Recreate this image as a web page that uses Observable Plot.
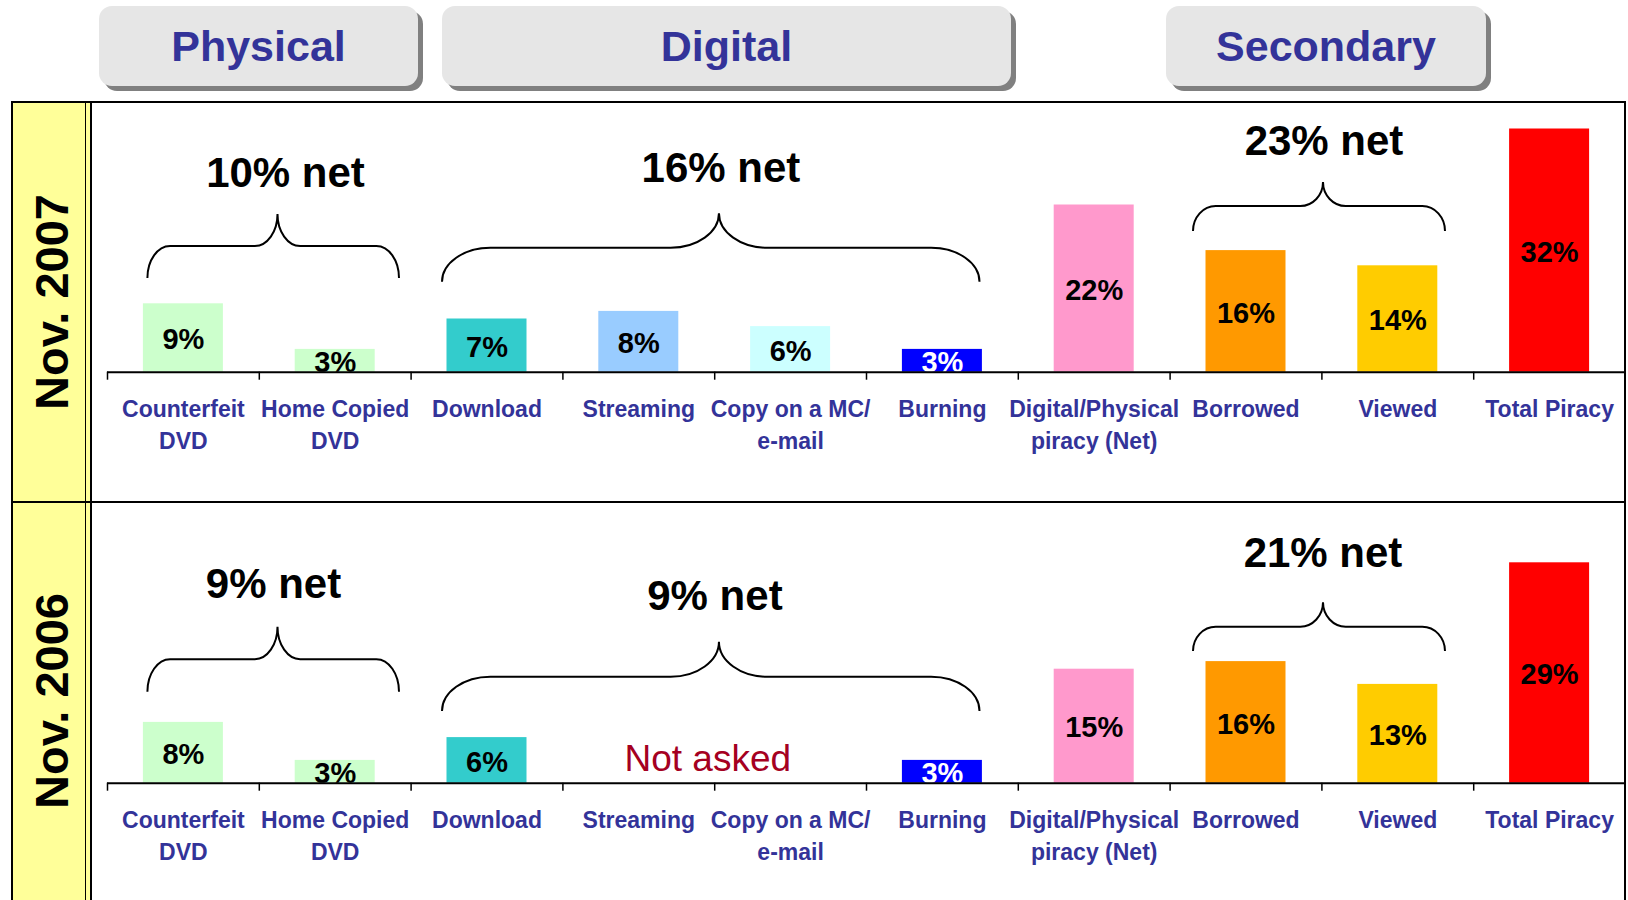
<!DOCTYPE html>
<html>
<head>
<meta charset="utf-8">
<script src="https://cdn.jsdelivr.net/npm/d3@7"></script>
<script src="https://cdn.jsdelivr.net/npm/@observablehq/plot@0.6"></script>
<style>
  body { margin: 0; background: #fff; }
  #wrap { position: relative; width: 1628px; height: 900px; overflow: hidden; background: #fff;
          font-family: "Liberation Sans", Arial, sans-serif; }
  .tab { position: absolute; background: #e6e6e6; border-radius: 13px; box-shadow: 5px 5px 0 #808080;
         display: flex; align-items: center; justify-content: center; color: #333399;
         font-weight: bold; font-size: 43px; line-height: 1; }
  .strip { position: absolute; left: 11px; width: 80px; background: #ffff99; }
  .strip span { position: absolute; left: 50%; top: 50%; transform: translate(-50%, -50%) rotate(-90deg);
                white-space: nowrap; font-weight: bold; font-size: 47px; color: #000; line-height: 1; }
  .ln { position: absolute; background: #000; }
  .panel { position: absolute; left: 91px; }
</style>
</head>
<body>
<div id="wrap"></div>
<script>
// ---------- data ----------
const categories = ["Counterfeit DVD", "Home Copied DVD", "Download", "Streaming", "Copy on a MC/ e-mail",
  "Burning", "Digital/Physical piracy (Net)", "Borrowed", "Viewed", "Total Piracy"];
const tickLabels = ["Counterfeit\nDVD", "Home Copied\nDVD", "Download", "Streaming", "Copy on a MC/\ne-mail",
  "Burning", "Digital/Physical\npiracy (Net)", "Borrowed", "Viewed", "Total Piracy"];
const values2007 = [9, 3, 7, 8, 6, 3, 22, 16, 14, 32];
const values2006 = [8, 3, 6, null, null, 3, 15, 16, 13, 29];
const barColors = ["#CCFFCC", "#CCFFCC", "#33CCCC", "#99CCFF", "#CCFFFF", "#0000FF", "#FF99CC", "#FF9900", "#FFCC00", "#FF0000"];
const groupNames = ["Physical", "Digital", "Secondary"];
const groupSpans = [["Counterfeit DVD", "Home Copied DVD"], ["Download", "Burning"], ["Borrowed", "Viewed"]];
const net2007 = [10, 16, 23];
const net2006 = [9, 9, 21];
const periods = ["Nov. 2007", "Nov. 2006"];
const notes2007 = [];
const notes2006 = [{cat: "Streaming", text: "Not asked"}];

// ---------- layout ----------
const wrap = document.getElementById("wrap");
const tabBoxes = [[99, 319], [442, 569], [1166, 320]];
groupNames.forEach((name, i) => {
  const d = document.createElement("div");
  d.className = "tab";
  d.style.left = tabBoxes[i][0] + "px"; d.style.top = "6px";
  d.style.width = tabBoxes[i][1] + "px"; d.style.height = "80px";
  d.textContent = name;
  wrap.appendChild(d);
});

const panels = [
  {top: 102, height: 400, marginBottom: 130.3, values: values2007, nets: net2007, notes: notes2007,
   braces: [
     {level: 12.33, dx0: -35.5, dx1: 64.3, dp: 4.3, h1: 32, h2: 32, gap: 27, tdx: 8},
     {level: 11.84, dx0: -44.5, dx1: 37.6, dp: 8.2, h1: 34, h2: 34.5, gap: 31, tdx: 2},
     {level: 18.51, dx0: -52.5, dx1: 47.7, dp: 4, h1: 25, h2: 24, gap: 27, tdx: 1}
   ]},
  {top: 502, height: 398, marginBottom: 117.3, values: values2006, nets: net2006, notes: notes2006,
   braces: [
     {level: 11.97, dx0: -35.5, dx1: 64.3, dp: 4.3, h1: 32.5, h2: 32.5, gap: 29, tdx: -4},
     {level: 9.43, dx0: -44.5, dx1: 37.6, dp: 8.2, h1: 34.3, h2: 35, gap: 32, tdx: -4},
     {level: 17.33, dx0: -52.5, dx1: 47.7, dp: 4, h1: 24.3, h2: 24.4, gap: 35, tdx: 0}
   ]}
];

const PX_PER_PCT = 7.6;
const PLOT_W = 1534;
const STEP = (PLOT_W - 16) / categories.length;

function braceMark(nets, spec) {
  return (index, scales) => {
    const sx = scales.x, sy = scales.y;
    const bw = typeof sx.bandwidth === "function" ? sx.bandwidth() : 80;
    const g = d3.create("svg:g");
    groupSpans.forEach(([a, b], i) => {
      const s = spec[i];
      const x0 = sx(a) + bw / 2 + s.dx0;
      const x1 = sx(b) + bw / 2 + s.dx1;
      const xm = (x0 + x1) / 2 + s.dp;
      const yE = sy(s.level), yF = yE - s.h1, yP = yF - s.h2;
      const w = 0.09 * (x1 - x0), k = 0.55;
      const p = d3.path();
      p.moveTo(x0, yE);
      p.bezierCurveTo(x0, yE - k * s.h1, x0 + w - k * w, yF, x0 + w, yF);
      p.lineTo(xm - w, yF);
      p.bezierCurveTo(xm - w + k * w, yF, xm, yP + k * s.h2, xm, yP);
      p.moveTo(x1, yE);
      p.bezierCurveTo(x1, yE - k * s.h1, x1 - w + k * w, yF, x1 - w, yF);
      p.lineTo(xm + w, yF);
      p.bezierCurveTo(xm + w - k * w, yF, xm, yP + k * s.h2, xm, yP);
      g.append("path").attr("d", p.toString()).attr("fill", "none")
        .attr("stroke", "#000").attr("stroke-width", 2);
      g.append("text").attr("x", xm + s.tdx).attr("y", yP - s.gap).attr("text-anchor", "middle")
        .attr("font-size", 42).attr("font-weight", "bold").attr("fill", "#000")
        .text(`${nets[i]}% net`);
    });
    return g.node();
  };
}

panels.forEach((pn, pi) => {
  // yellow strip
  const strip = document.createElement("div");
  strip.className = "strip";
  strip.style.top = pn.top + "px"; strip.style.height = pn.height + "px";
  const sp = document.createElement("span"); sp.textContent = periods[pi];
  strip.appendChild(sp);
  wrap.appendChild(strip);

  const data = categories.map((c, i) => ({cat: c, value: pn.values[i]}));
  const present = data.filter(d => d.value != null);
  const yMax = (pn.height - pn.marginBottom) / PX_PER_PCT;
  const chart = Plot.plot({
    width: PLOT_W, height: pn.height,
    marginLeft: 16, marginRight: 0, marginTop: 0, marginBottom: pn.marginBottom,
    style: {background: "transparent", fontFamily: "'Liberation Sans', Arial, sans-serif", overflow: "visible"},
    x: {domain: categories, paddingInner: 0.473, paddingOuter: 0.2365, round: false, label: null},
    y: {domain: [0, yMax], axis: null},
    color: {domain: categories, range: barColors},
    marks: [
      Plot.barY(present, {x: "cat", y: "value", fill: "cat"}),
      Plot.text(present.filter(d => d.cat !== "Burning"), {x: "cat", y: d => d.value / 2, text: d => `${d.value}%`,
        fontSize: 29, fontWeight: "bold", fill: "#000", dy: 2, clip: true}),
      Plot.text(present.filter(d => d.cat === "Burning"), {x: "cat", y: d => d.value / 2, text: d => `${d.value}%`,
        fontSize: 29, fontWeight: "bold", fill: "#fff", dy: 2, clip: true}),
      Plot.ruleY([0], {stroke: "#000", strokeWidth: 2}),
      Plot.axisX({tickSize: 0, tickPadding: 21, fontSize: 23, fontWeight: "bold", color: "#333399",
        lineHeight: 1.43, label: null, tickFormat: d => tickLabels[categories.indexOf(d)]}),
      Plot.axisX({tickSize: 8, dx: -STEP / 2, tickFormat: () => "", label: null, color: "#000", strokeWidth: 1.5}),
      Plot.text(pn.notes, {x: "cat", y: 0, dx: 69, dy: -12.7, text: "text", lineAnchor: "bottom",
        fontSize: 37, fill: "#A50021"}),
      braceMark(pn.nets, pn.braces)
    ]
  });
  const holder = document.createElement("div");
  holder.className = "panel";
  holder.style.top = pn.top + "px";
  holder.appendChild(chart);
  wrap.appendChild(holder);
});

// frame lines
function line(x, y, w, h) {
  const d = document.createElement("div");
  d.className = "ln";
  Object.assign(d.style, {left: x + "px", top: y + "px", width: w + "px", height: h + "px"});
  wrap.appendChild(d);
}
line(11, 101, 1615, 2);
line(11, 501, 1615, 2);
line(11, 101, 2, 800);
line(85, 101, 1, 800);
line(90, 101, 2, 800);
line(1624, 101, 2, 800);
</script>
</body>
</html>
